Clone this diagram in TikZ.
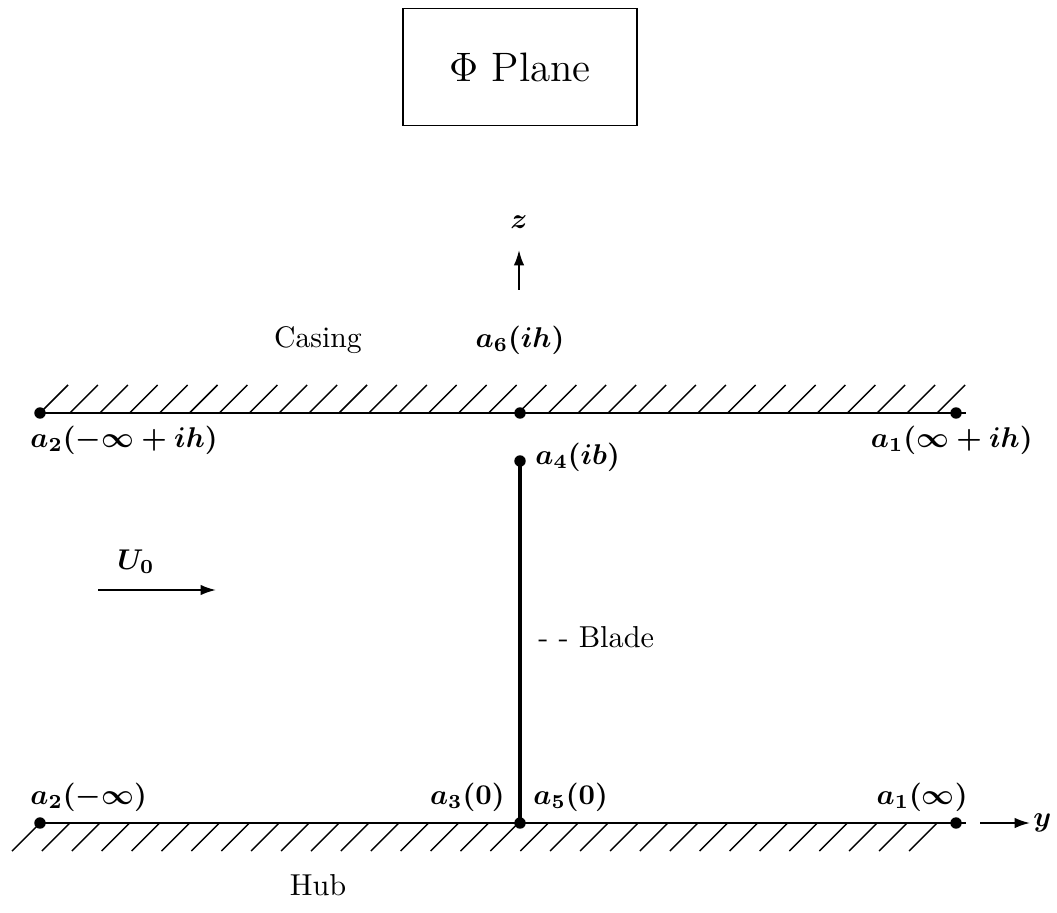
\documentclass[tikz,border=0pt]{standalone}
\usepackage{amsmath,amssymb}
\usepackage{tikz}
\usetikzlibrary{arrows.meta,positioning}

\begin{document}
\begin{tikzpicture}[
		x=0.35pt, y=-0.35pt,
		dotpt/.style={circle, fill, inner sep=0pt, minimum size=4pt},
		wall/.style={line width=0.8pt},
		hatch/.style={line width=0.5pt},
		lbl/.style={font=\boldmath, inner sep=1pt},
		arr/.style={line width=0.7pt, -{Latex[length=1.9mm, width=1.3mm]}}
		]
		\useasboundingbox (0,0) rectangle (1057,912);
		\node[draw, line width=0.5pt, minimum width=82pt, minimum height=41pt, font=\Large] (title) at (520,67) {$\Phi$ Plane};
		% top wall (casing)
		\node[dotpt] (a2t) at (40,413) {};
		\node[dotpt] (a6) at (520,413) {};
		\node[dotpt] (a1t) at (956,413) {};
		\coordinate (tend) at (966,413);
		\draw[wall] (a2t.center) -- (tend);
		\foreach \x in {40,69.9,...,940} \draw[hatch] (\x,413) -- ++(28,-28);
		% bottom wall (hub)
		\node[dotpt] (a2b) at (40,823) {};
		\node[dotpt] (a3) at (520,823) {};
		\node[dotpt] (a1b) at (956,823) {};
		\coordinate (bend) at (966,823);
		\draw[wall] (a2b.center) -- (bend);
		\foreach \x in {40,69.9,...,940} \draw[hatch] (\x,823) -- ++(-28,28);
		% blade
		\node[dotpt] (a4) at (520,461) {};
		\draw[line width=1.2pt] (a4.center) -- (a3.center);
		% labels
		\node[lbl, font=\fontsize{10.4}{12}\selectfont] (casing) at (318,340) {Casing};
		\node[lbl] (l6) at (520,340) {$a_6(ih)$};
		\node[lbl, anchor=west] (l2t) at (27,440) {$a_2(-\infty+ih)$};
		\node[lbl, anchor=east] (l1t) at (1036,440) {$a_1(\infty+ih)$};
		\node[lbl, anchor=west] (l4) at (532,457) {$a_4(ib)$};
		\node[lbl, anchor=west, font=\fontsize{10.6}{12}\selectfont] (blade) at (535,637) {- - Blade};
		\node[lbl, anchor=west] (l2b) at (27,797) {$a_2(-\infty)$};
		\node[lbl, anchor=east] (l3) at (508,797) {$a_3(0)$};
		\node[lbl, anchor=west] (l5) at (530,797) {$a_5(0)$};
		\node[lbl, anchor=east] (l1b) at (971,797) {$a_1(\infty)$};
		\node[lbl, font=\fontsize{10.6}{12}\selectfont] (hub) at (318,885) {Hub};
		% axes and flow
		\node[lbl] (zl) at (519,222) {$z$};
		\coordinate (z0) at (519,290);
		\coordinate (z1) at (519,250);
		\draw[arr] (z0) -- (z1);
		\coordinate (y0) at (980,823);
		\node[lbl, anchor=west] (yl) at (1030,823) {$y$};
		\draw[arr] (y0) -- (yl.west);
		\node[lbl] (u0) at (136,562) {$U_0$};
		\coordinate (u1) at (98,590);
		\coordinate (u2) at (216,590);
		\draw[arr] (u1) -- (u2);
	\end{tikzpicture}
\end{document}
